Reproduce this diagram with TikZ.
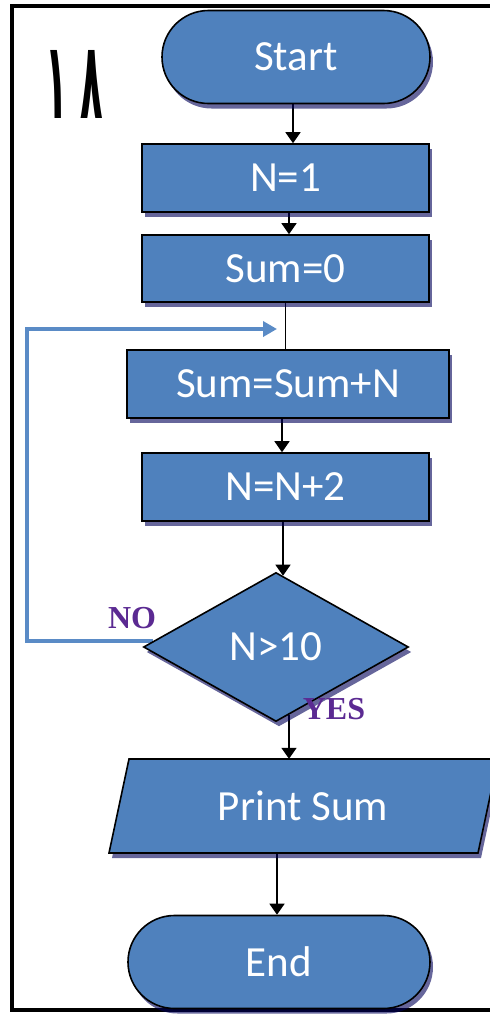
\documentclass[tikz,border=0pt]{standalone}
\usepackage{fontspec}
\setmainfont{Carlito}
\newfontfamily\lblfont{Liberation Serif}
\newfontfamily\digfont{DejaVu Sans}
\usetikzlibrary{shapes.geometric,shapes.misc,arrows.meta,shadows,backgrounds}
\definecolor{boxblue}{HTML}{4F81BD}
\definecolor{loopblue}{HTML}{5A8BC6}
\definecolor{lblpurple}{HTML}{5B2A92}
\begin{document}
\begin{tikzpicture}[x=1pt,y=-1pt,
  base/.style={draw=black, line width=1.6pt, fill=boxblue, text=white,
    font=\fontsize{43}{43}\selectfont, inner sep=0pt,
    drop shadow={shadow xshift=3pt, shadow yshift=-5pt, fill=blue!35!black, opacity=0.6}},
  term/.style={base, rounded rectangle},
  proc/.style={base, rectangle},
  dec/.style={base, diamond, aspect=1.78},
  txt/.style={inner sep=0pt, text=white, font=\fontsize{43}{43}\selectfont},
  arr/.style={draw=black, line width=1.6pt, -{Triangle[width=15pt,length=11pt]}},
  plain/.style={draw=black, line width=1.6pt},
  looparr/.style={draw=loopblue, line width=4pt, -{Triangle[width=15pt,length=14pt]}},
  lbl/.style={inner sep=0pt, text=lblpurple, font=\lblfont\bfseries\fontsize{32}{32}\selectfont},
  frame/.style={draw=black, line width=4pt}
]
\useasboundingbox (0,0) rectangle (490,1021);

% nodes
\node[term, minimum width=268pt, minimum height=93pt] (start) at (296,57) {Start};
\node[proc, minimum width=287pt, minimum height=68pt] (n1) at (285.5,178) {N=1};
\node[proc, minimum width=287pt, minimum height=67pt] (s0) at (285.5,268.5) {Sum=0};
\node[proc, minimum width=322pt, minimum height=68pt] (ss) at (288,384) {Sum=Sum+N};
\node[proc, minimum width=287pt, minimum height=68pt] (nn) at (285.5,487) {N=N+2};
\node[dec, minimum width=265pt, minimum height=149pt] (dec) at (276,647) {N>10};
\path[draw=black, line width=1.6pt, fill=boxblue,
  drop shadow={shadow xshift=3pt, shadow yshift=-5pt, fill=blue!35!black, opacity=0.6}]
  (129,759) -- (498,759) -- (478,853) -- (109,853) -- cycle;
\node[txt, minimum width=300pt, minimum height=94pt] (print) at (303,806) {Print Sum};
\node[term, minimum width=302pt, minimum height=93pt] (end) at (279,962) {End};

\node[lbl] (no) at (132,618) {NO};
\node[lbl] (yes) at (334,709) {YES};
\node[inner sep=0pt] (num) at (74,84) {\resizebox{58pt}{68pt}{\digfont\bfseries ١\kern0.35em٨}};

\coordinate (loopend) at (277,329);

\begin{scope}[on background layer]
  \draw[frame] (495,6) -- (12,6) -- (12,1010) -- (495,1010);
  \draw[arr] ([xshift=-3pt]start.south) -- ([xshift=7.5pt]n1.north);
  \draw[arr] ([xshift=3.5pt]n1.south) -- ([xshift=3.5pt]s0.north);
  \draw[plain] (s0.south) -- ([xshift=-2.5pt]ss.north);
  \draw[arr] ([xshift=-6pt]ss.south) -- ([xshift=-3.5pt]nn.north);
  \draw[arr] ([xshift=-2.5pt]nn.south) -- ([xshift=7pt,yshift=-4pt]dec.north);
  \draw[arr] ([xshift=13pt,yshift=7pt]dec.south) -- ([xshift=-14pt]print.north);
  \draw[arr] ([xshift=-26pt]print.south) -- ([xshift=-2pt]end.north);
  \draw[looparr] ([xshift=10pt,yshift=6pt]dec.west) -- ++(-126,0) |- (loopend);
\end{scope}
\end{tikzpicture}
\end{document}
